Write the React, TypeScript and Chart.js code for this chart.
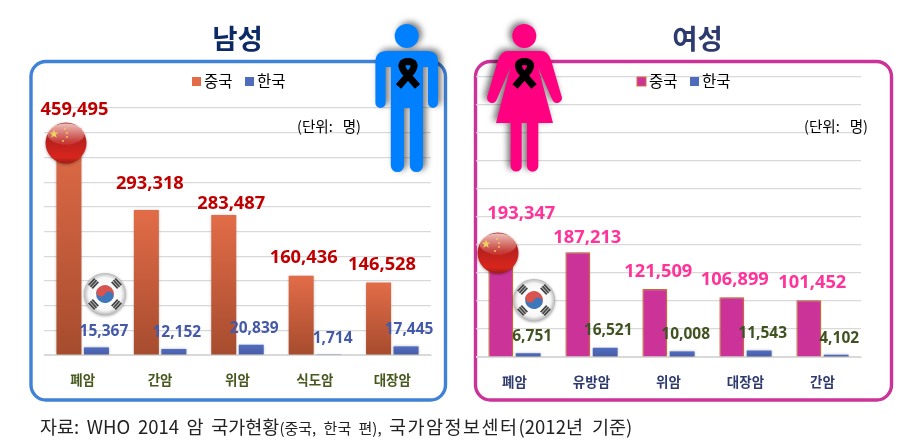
import React, { useEffect, useRef } from "react";
import { Chart, registerables } from "chart.js";
Chart.register(...registerables);

const maleCategories = ["폐암", "간암", "위암", "식도암", "대장암"];
const maleChina = [459495, 293318, 283487, 160436, 146528];
const maleKorea = [15367, 12152, 20839, 1714, 17445];
const femaleCategories = ["폐암", "유방암", "위암", "대장암", "간암"];
const femaleChina = [193347, 187213, 121509, 106899, 101452];
const femaleKorea = [6751, 16521, 10008, 11543, 4102];
const seriesNames = ["중국", "한국"];
const yTicks = { max: 500000, step: 50000 };

const KR = '"Noto Sans CJK KR", "Noto Sans", sans-serif';
const NUM = '"Open Sans", "Noto Sans", sans-serif';

function rr(c: any, x: number, y: number, w: number, h: number, r: number) {
  c.beginPath();
  c.roundRect(x, y, w, h, r);
}

function ribbon(c: any, cx: number) {
  c.save();
  c.shadowColor = "transparent";
  c.strokeStyle = "#000";
  c.lineWidth = 7;
  c.lineCap = "butt";
  c.lineJoin = "round";
  c.beginPath();
  c.moveTo(cx - 9.5, 86.5);
  c.lineTo(cx + 4, 71);
  c.bezierCurveTo(cx + 8, 65, cx + 6, 61.5, cx, 61.5);
  c.bezierCurveTo(cx - 6, 61.5, cx - 8, 65, cx - 4, 71);
  c.lineTo(cx + 9.5, 86.5);
  c.stroke();
  c.restore();
}

function man(c: any) {
  c.save();
  c.fillStyle = "#0080ff";
  c.shadowColor = "rgba(0,0,0,0.55)";
  c.shadowBlur = 6;
  c.shadowOffsetX = 3;
  c.shadowOffsetY = -2;
  c.beginPath();
  c.arc(406.7, 36, 12, 0, Math.PI * 2);
  c.moveTo(387, 51);
  c.lineTo(427, 51);
  c.quadraticCurveTo(438, 51, 438, 62);
  c.lineTo(438, 103);
  c.arc(433, 103, 5, 0, Math.PI);
  c.lineTo(428, 67);
  c.lineTo(423, 67);
  c.lineTo(423, 165.5);
  c.arc(416.4, 165.5, 6.6, 0, Math.PI);
  c.lineTo(409.8, 108);
  c.lineTo(404, 108);
  c.lineTo(404, 165.5);
  c.arc(397.4, 165.5, 6.6, 0, Math.PI);
  c.lineTo(390.8, 67);
  c.lineTo(385.6, 67);
  c.lineTo(385.6, 103);
  c.arc(380.5, 103, 5.1, 0, Math.PI);
  c.lineTo(375.4, 62);
  c.quadraticCurveTo(375.4, 51, 387, 51);
  c.closePath();
  c.fill();
  c.restore();
  ribbon(c, 408);
}

function woman(c: any, ox: number) {
  const X = (v: number) => v - ox;
  c.save();
  c.fillStyle = "#ff0080";
  c.shadowColor = "rgba(0,0,0,0.55)";
  c.shadowBlur = 6;
  c.shadowOffsetX = -3;
  c.shadowOffsetY = -2;
  c.beginPath();
  c.arc(X(524.3), 36, 12, 0, Math.PI * 2);
  c.moveTo(X(508), 51);
  c.lineTo(X(541), 51);
  c.quadraticCurveTo(X(548), 51, X(551), 60);
  c.lineTo(X(561.5), 96);
  c.arc(X(557), 98, 5, -0.3, Math.PI - 0.3);
  c.lineTo(X(538), 67);
  c.lineTo(X(553), 123);
  c.lineTo(X(538.3), 123);
  c.lineTo(X(538.3), 166);
  c.arc(X(532.6), 166, 5.7, 0, Math.PI);
  c.lineTo(X(527), 123);
  c.lineTo(X(521.7), 123);
  c.lineTo(X(521.7), 166);
  c.arc(X(516.2), 166, 5.6, 0, Math.PI);
  c.lineTo(X(510.7), 123);
  c.lineTo(X(496), 123);
  c.lineTo(X(510.5), 67);
  c.lineTo(X(497), 99);
  c.arc(X(492), 98, 5, 0.3, Math.PI + 0.3);
  c.lineTo(X(498), 60);
  c.quadraticCurveTo(X(501), 51, X(508), 51);
  c.closePath();
  c.fill();
  c.restore();
  ribbon(c, X(524.5));
}

function ballShadow(c: any) {
  c.shadowColor = "rgba(0,0,0,0.35)";
  c.shadowBlur = 3;
  c.shadowOffsetY = 1;
}

function chinaBall(c: any, x: number, y: number) {
  const r = 20.5;
  c.save();
  ballShadow(c);
  const g = c.createLinearGradient(0, y - r, 0, y + r);
  g.addColorStop(0, "#b53a35");
  g.addColorStop(0.45, "#b9201e");
  g.addColorStop(0.85, "#d8261c");
  g.addColorStop(1, "#9c1c15");
  c.fillStyle = g;
  c.beginPath();
  c.arc(x, y, r, 0, Math.PI * 2);
  c.fill();
  c.shadowColor = "transparent";
  const h = c.createLinearGradient(0, y - r, 0, y);
  h.addColorStop(0, "rgba(255,235,230,0.8)");
  h.addColorStop(1, "rgba(255,190,180,0.15)");
  c.fillStyle = h;
  c.beginPath();
  c.ellipse(x, y - 9, r - 2, 10.5, 0, 0, Math.PI * 2);
  c.fill();
  c.fillStyle = "#ecd35e";
  c.beginPath();
  const sx = x - 12, sy = y - 9;
  for (let i = 0; i < 10; i++) {
    const a = -Math.PI / 2 + (i * Math.PI) / 5;
    const rad = i % 2 ? 1.9 : 4.6;
    c.lineTo(sx + rad * Math.cos(a), sy + rad * Math.sin(a));
  }
  c.closePath();
  c.fill();
  [[-1, -14], [1, -10], [1, -6], [-3, -2]].forEach(([dx, dy]) => {
    c.beginPath();
    c.arc(x + dx, y + dy, 0.9, 0, Math.PI * 2);
    c.fill();
  });
  c.restore();
}

function koreaBall(c: any, x: number, y: number) {
  const r = 21;
  c.save();
  ballShadow(c);
  const g = c.createRadialGradient(x, y, 6, x, y, r);
  g.addColorStop(0, "#ffffff");
  g.addColorStop(0.7, "#f6f6f6");
  g.addColorStop(1, "#b8b8b8");
  c.fillStyle = g;
  c.beginPath();
  c.arc(x, y, r, 0, Math.PI * 2);
  c.fill();
  c.shadowColor = "transparent";
  const t = 9;
  const a = 0.45;
  c.fillStyle = "#d9534f";
  c.beginPath();
  c.arc(x, y, t, Math.PI + a, a);
  c.fill();
  c.fillStyle = "#3f77bb";
  c.beginPath();
  c.arc(x, y, t, a, Math.PI + a);
  c.fill();
  c.fillStyle = "#d9534f";
  c.beginPath();
  c.arc(x - (t / 2) * Math.cos(a), y - (t / 2) * Math.sin(a), t / 2, 0, Math.PI * 2);
  c.fill();
  c.fillStyle = "#3f77bb";
  c.beginPath();
  c.arc(x + (t / 2) * Math.cos(a), y + (t / 2) * Math.sin(a), t / 2, 0, Math.PI * 2);
  c.fill();
  c.fillStyle = "#444";
  [[-1, -1], [1, -1], [-1, 1], [1, 1]].forEach(([sx, sy]) => {
    c.save();
    c.translate(x + sx * 11.5, y + sy * 10.5);
    c.rotate(Math.atan2(sy * 10.5, sx * 11.5) + Math.PI / 2);
    for (let i = -1; i <= 1; i++) c.fillRect(-4.5, i * 2.4 - 0.9, 9, 1.8);
    c.restore();
  });
  c.restore();
}

type Side = {
  ox: number;
  title: string;
  titleColor: string;
  titleX: number;
  plotTop: number;
  plotBottom: number;
  plotLeft: number;
  plotRight: number;
  panel: number[];
  panelColor: string;
  legendX: number;
  unitX: number;
  tickColor: string;
  categories: string[];
  china: number[];
  korea: number[];
  chinaTop: string;
  chinaBottom: string;
  chinaBorder: string;
  chinaLabel: string;
  koreaLabel: string;
  chinaOff: number[][];
  koreaOff: number[][];
  balls: number[];
  figure: (c: any) => void;
};

function makeChart(canvas: HTMLCanvasElement, s: Side) {
  const W = 457;
  const H = 441;
  const barFill = (top: string, bottom: string) => (ctx: any) => {
    const { chart } = ctx;
    if (ctx.type !== "data" || !chart.chartArea) return top;
    const y = chart.scales.y;
    const g = chart.ctx.createLinearGradient(0, y.getPixelForValue(ctx.raw), 0, y.getPixelForValue(0));
    g.addColorStop(0, top);
    g.addColorStop(1, bottom);
    return g;
  };
  const decor = {
    id: "decor",
    afterLayout(chart: any) {
      chart.titleBlock.left = s.titleX - s.ox - 100;
      chart.titleBlock.right = s.titleX - s.ox + 100;
    },
    beforeDraw(chart: any) {
      const c = chart.ctx;
      c.save();
      c.strokeStyle = s.panelColor;
      c.lineWidth = 3.4;
      rr(c, s.panel[0] - s.ox, s.panel[1], s.panel[2], s.panel[3], 15);
      c.stroke();
      c.restore();
    },
    beforeDatasetsDraw(chart: any) {
      const c = chart.ctx;
      c.save();
      c.shadowColor = "rgba(0,0,0,0.3)";
      c.shadowBlur = 3;
    },
    afterDatasetsDraw(chart: any) {
      const c = chart.ctx;
      c.restore();
      c.save();
      c.textAlign = "center";
      c.textBaseline = "middle";
      chart.data.datasets.forEach((ds: any, di: number) => {
        const meta = chart.getDatasetMeta(di);
        const off = di === 0 ? s.chinaOff : s.koreaOff;
        c.fillStyle = di === 0 ? s.chinaLabel : s.koreaLabel;
        c.font = di === 0 ? `bold 18.3px ${NUM}` : `bold 15.5px ${NUM}`;
        meta.data.forEach((bar: any, i: number) => {
          c.fillText(ds.data[i].toLocaleString("en-US"), bar.x + off[i][0], bar.y + off[i][1] + 1.5);
        });
      });
      c.restore();
    },
    afterDraw(chart: any) {
      const c = chart.ctx;
      c.save();
      c.textBaseline = "middle";
      c.font = `15.5px ${KR}`;
      const ly = 81.5;
      const swatches = [s.chinaTop, "#4f6bbd"];
      let lx = s.legendX - s.ox;
      seriesNames.forEach((n, i) => {
        c.fillStyle = swatches[i];
        c.fillRect(lx, ly - 4.5, 9, 9);
        if (i === 0 && s.chinaBorder !== "transparent") {
          c.strokeStyle = s.chinaBorder;
          c.strokeRect(lx, ly - 4.5, 9, 9);
        }
        c.fillStyle = "#000";
        c.textAlign = "left";
        c.fillText(n, lx + 12, ly);
        lx += 53;
      });
      c.font = `14.6px ${KR}`;
      c.textAlign = "center";
      c.fillText("(단위:   명)", s.unitX - s.ox, 126);
      c.restore();
      s.figure(c);
      chinaBall(c, s.balls[0] - s.ox, s.balls[1]);
      koreaBall(c, s.balls[2] - s.ox, s.balls[3]);
    },
  };
  return new Chart(canvas, {
    type: "bar",
    data: {
      labels: s.categories,
      datasets: [
        {
          label: seriesNames[0],
          data: s.china,
          backgroundColor: barFill(s.chinaTop, s.chinaBottom),
          borderColor: s.chinaBorder,
          borderWidth: s.chinaBorder === "transparent" ? 0 : 1.3,
          categoryPercentage: 0.71,
          barPercentage: 0.91,
        },
        {
          label: seriesNames[1],
          data: s.korea,
          backgroundColor: barFill("#4f6dc2", "#4a5ca3"),
          categoryPercentage: 0.71,
          barPercentage: 0.91,
        },
      ],
    },
    options: {
      responsive: false,
      animation: false,
      layout: {
        padding: {
          left: s.plotLeft - s.ox,
          right: W - (s.plotRight - s.ox),
          top: 0,
          bottom: H - s.plotBottom - 36,
        },
      },
      plugins: {
        legend: { display: false },
        tooltip: { enabled: false },
        title: {
          display: true,
          text: s.title,
          color: s.titleColor,
          font: { family: KR, size: 27.5, weight: "bold" },
          padding: { top: 22, bottom: s.plotTop - 22 - 33 },
        },
      },
      scales: {
        x: {
          afterFit: (sc: any) => {
            sc.height = 36;
          },
          grid: { display: false },
          border: { color: "#d9d9d9" },
          ticks: {
            color: s.tickColor,
            padding: 9,
            maxRotation: 0,
            font: { family: KR, size: 13.5, weight: "bold" },
          },
        },
        y: {
          min: 0,
          max: yTicks.max,
          grid: { color: "#d9d9d9", lineWidth: 1.2, drawTicks: false },
          border: { display: false },
          ticks: { display: false, stepSize: yTicks.step },
        },
      },
    },
    plugins: [decor],
  } as any);
}

const left: Side = {
  ox: 0,
  title: "남성",
  titleColor: "#0b2a66",
  titleX: 237.5,
  plotTop: 108,
  plotBottom: 355,
  plotLeft: 44,
  plotRight: 431,
  panel: [31, 61.5, 414.5, 338.5],
  panelColor: "#3f82d6",
  legendX: 192,
  unitX: 329,
  tickColor: "#47591f",
  categories: maleCategories,
  china: maleChina,
  korea: maleKorea,
  chinaTop: "#e26c48",
  chinaBottom: "#a64c2e",
  chinaBorder: "transparent",
  chinaLabel: "#c00000",
  koreaLabel: "#4459a8",
  chinaOff: [[5.5, -20], [3.5, -28], [7.5, -13], [2.5, -19], [3.5, -19]],
  koreaOff: [[7.5, -17], [3, -18], [3, -18], [4, -17], [3, -18]],
  balls: [66, 143, 105, 294],
  figure: man,
};

const right: Side = {
  ox: 457,
  title: "여성",
  titleColor: "#2c3a6e",
  titleX: 697.5,
  plotTop: 77,
  plotBottom: 357,
  plotLeft: 476,
  plotRight: 861,
  panel: [475.5, 61.5, 416, 338.5],
  panelColor: "#cc3399",
  legendX: 637,
  unitX: 836,
  tickColor: "#2f3b6e",
  categories: femaleCategories,
  china: femaleChina,
  korea: femaleKorea,
  chinaTop: "#cc3399",
  chinaBottom: "#cc3399",
  chinaBorder: "#d9703a",
  chinaLabel: "#ff3399",
  koreaLabel: "#3f5220",
  chinaOff: [[20.5, -36], [9.5, -16], [3.5, -19], [3, -19], [3.5, -19]],
  koreaOff: [[4, -18], [3, -19], [3.5, -18], [3.5, -18], [3, -18]],
  balls: [498, 253, 534, 300],
  figure: (c: any) => woman(c, 457),
};

export default function App() {
  const a = useRef<HTMLCanvasElement>(null);
  const b = useRef<HTMLCanvasElement>(null);
  useEffect(() => {
    const c1 = makeChart(a.current!, left);
    const c2 = makeChart(b.current!, right);
    return () => {
      c1.destroy();
      c2.destroy();
    };
  }, []);
  const big = { fontSize: 18.5, wordSpacing: 3.5 };
  const small = { fontSize: 15, wordSpacing: 4 };
  return (
    <div style={{ position: "fixed", left: 0, top: 0, width: 914, height: 441, background: "#fff", overflow: "hidden" }}>
      <canvas ref={a} width={457} height={441} style={{ position: "absolute", left: 0, top: 0, width: 457, height: 441 }} />
      <canvas ref={b} width={457} height={441} style={{ position: "absolute", left: 457, top: 0, width: 457, height: 441 }} />
      <div style={{ position: "absolute", left: 40, top: 413, whiteSpace: "nowrap", fontFamily: KR, color: "#222", lineHeight: "26px" }}>
        <span style={big}>자료: WHO 2014 암 국가현황</span>
        <span style={small}>(중국, 한국 편), </span>
        <span style={{ ...big, letterSpacing: 1.5 }}>국가암정보센터</span>
        <span style={{ ...big, wordSpacing: 5 }}>(2012년 기준)</span>
      </div>
    </div>
  );
}
